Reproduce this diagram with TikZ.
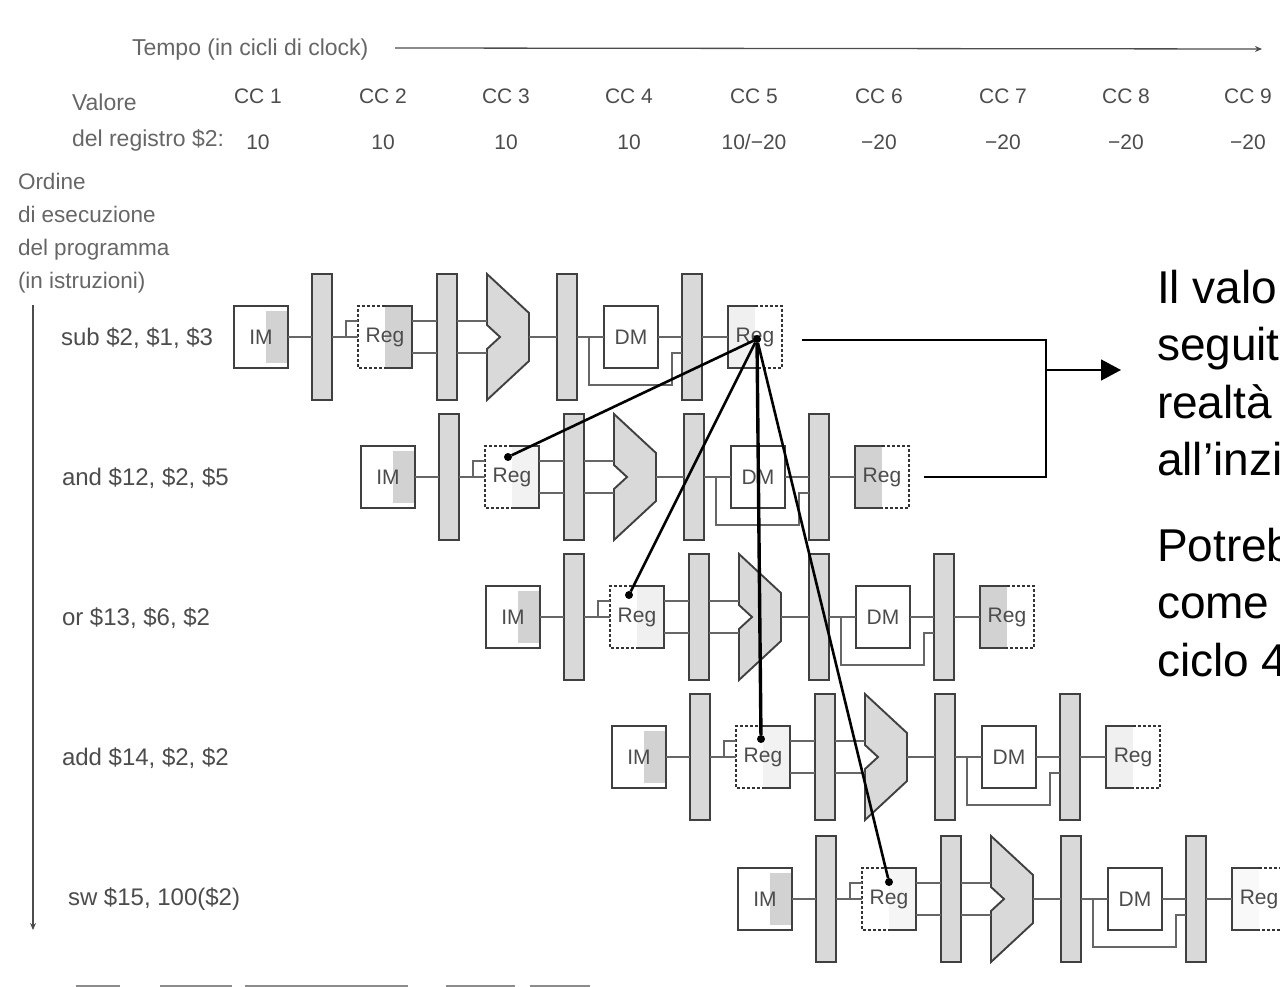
\documentclass[tikz,border=0pt]{standalone}
\usepackage{fontspec}
\setmainfont{Liberation Sans}
\usetikzlibrary{arrows.meta, positioning, calc}

\begin{document}
\begin{tikzpicture}[
  x=1pt, y=-1pt, >={Stealth[length=7pt, width=6pt]},
  inner sep=0pt, outer sep=0pt,
  label/.style={text=black!70, anchor=base west, font=\fontsize{23}{27}\selectfont},
  cell/.style={text=black!70, anchor=base, font=\fontsize{21}{25}\selectfont},
  unit/.style={minimum width=54pt, minimum height=62pt, text=black!70,
               font=\fontsize{21}{25}\selectfont},
  boxline/.style={draw=black!75, line width=1.9pt},
  dashline/.style={draw=black!80, line width=1.9pt, dash pattern=on 3pt off 2pt},
  wire/.style={draw=black!60, line width=1.8pt},
  latch/.style={draw=black!75, line width=2.6pt, fill=gray!30,
                minimum width=20pt, minimum height=126pt},
  alubox/.style={minimum width=42pt, minimum height=126pt},
  aluline/.style={draw=black!75, line width=1.9pt, fill=gray!30},
  halfleft/.style={path picture={\fill[gray!#1] (path picture bounding box.north west)
                   rectangle (path picture bounding box.south);}},
  halfright/.style={path picture={\fill[gray!#1] (path picture bounding box.north)
                    rectangle (path picture bounding box.south east);}},
  imshade/.style={path picture={\fill[gray!35] ([xshift=-22pt,yshift=-5pt]path picture bounding box.north east)
                  rectangle ([yshift=5pt]path picture bounding box.south east);}},
  depdot/.style={circle, fill=black, minimum size=8pt},
  dep/.style={line width=2.6pt, black},
  note/.style={anchor=north west, align=left, font=\fontsize{46}{57.5}\selectfont}]
  \clip (0,0) rectangle (1280,987);

  \node[label, text=black!60] (tempo) at (132,56) {Tempo (in cicli di clock)};
  \coordinate (timestart) at (395,48);
  \coordinate (timeend) at (1262,49);
  \draw[->, draw=black!70, line width=1.3pt] (timestart) -- (timeend);

  \node[label, text=black!60] (valore) at (72,111) {Valore};
  \node[label, text=black!60] (registro) at (72,147) {del registro \$2:};
  \foreach \i/\cx/\val in {1/258/10, 2/383/10, 3/506/10, 4/629/10, 5/754/{10/−20},
                           6/879/−20, 7/1003/−20, 8/1126/−20, 9/1248/−20} {
    \node[cell] (cc\i) at (\cx,104) {CC \i};
    \node[cell] (val\i) at (\cx,150) {\val};
  }

  \node[anchor=north west, align=left, text=black!60, font=\fontsize{22.5}{33}\selectfont]
    (ordine) at (18,173) {Ordine\\di esecuzione\\del programma\\(in istruzioni)};
  \coordinate (ordstart) at (33,305);
  \coordinate (ordend) at (33,930);
  \draw[->, draw=black!70, line width=1.3pt] (ordstart) -- (ordend);

  \node[label, font=\fontsize{24}{28}\selectfont] (ins1) at (61,345) {sub \$2, \$1, \$3};
  \node[label, font=\fontsize{24}{28}\selectfont] (ins2) at (62,485) {and \$12, \$2, \$5};
  \node[label, font=\fontsize{24}{28}\selectfont] (ins3) at (62,625) {or \$13, \$6, \$2};
  \node[label, font=\fontsize{24}{28}\selectfont] (ins4) at (62,765) {add \$14, \$2, \$2};
  \node[label, font=\fontsize{24}{28}\selectfont] (ins5) at (68,905) {sw \$15, 100(\$2)};

  \foreach \r/\px/\py/\rs/\ws in {1/234/337/35/12, 2/361/477/10/35, 3/486/617/12/35,
                                  4/612/757/10/12, 5/738/899/8/5} {
    \node[unit, boxline, imshade] (im\r) at (\px+27,\py) {IM};
    \node[latch, right=24pt of im\r] (la\r) {};
    \node[unit, halfright=\rs, right=26pt of la\r] (rd\r) {Reg};
    \node[latch, right=25pt of rd\r] (lb\r) {};
    \node[alubox, right=30pt of lb\r] (alu\r) {};
    \node[latch, right=28pt of alu\r] (lc\r) {};
    \node[unit, boxline, right=27pt of lc\r] (dm\r) {DM};
    \node[latch, right=24pt of dm\r] (ld\r) {};
    \node[unit, halfleft=\ws, right=26pt of ld\r] (wb\r) {Reg};

    \draw[boxline] (rd\r.north) -- (rd\r.north east) -- (rd\r.south east) -- (rd\r.south);
    \draw[dashline] (rd\r.north) -- (rd\r.north west) -- (rd\r.south west) -- (rd\r.south);
    \draw[boxline] (wb\r.north) -- (wb\r.north west) -- (wb\r.south west) -- (wb\r.south);
    \draw[dashline] (wb\r.north) -- (wb\r.north east) -- (wb\r.south east) -- (wb\r.south);
    \draw[aluline] (alu\r.north west) -- ([yshift=-39pt]alu\r.north east)
      -- ([yshift=39pt]alu\r.south east) -- (alu\r.south west)
      -- ([yshift=-12pt]alu\r.west) -- ([xshift=13pt]alu\r.west)
      -- ([yshift=12pt]alu\r.west) -- cycle;

    \draw[wire] (im\r) -- (la\r);
    \draw[wire] (la\r) -- (rd\r);
    \draw[wire] ([xshift=14pt]la\r.east) |- ([yshift=16pt]rd\r.west);
    \draw[wire] ([yshift=16pt]rd\r.east) -- ([yshift=16pt]lb\r.west);
    \draw[wire] ([yshift=-16pt]rd\r.east) -- ([yshift=-16pt]lb\r.west);
    \draw[wire] ([yshift=16pt]lb\r.east) -- ([yshift=16pt]alu\r.west);
    \draw[wire] ([yshift=-16pt]lb\r.east) -- ([yshift=-16pt]alu\r.west);
    \draw[wire] (alu\r) -- (lc\r);
    \draw[wire] (lc\r) -- (dm\r);
    \draw[wire] (dm\r) -- (ld\r);
    \draw[wire] (ld\r) -- (wb\r);
    \draw[wire] ([xshift=12pt]lc\r.east) |- ([yshift=-17pt]dm\r.south)
      -| ([xshift=-10pt,yshift=-16pt]ld\r.west) -- ([yshift=-16pt]ld\r.west);
  }

  \node[depdot] (depsrc) at (757,339) {};
  \node[depdot] (dep2) at (508,457) {};
  \node[depdot] (dep3) at (629,595) {};
  \node[depdot] (dep4) at (761,739) {};
  \node[depdot] (dep5) at (889,882) {};
  \draw[dep] (depsrc) -- (dep2);
  \draw[dep] (depsrc) -- (dep3);
  \draw[dep, line width=3.4pt] (depsrc) -- (dep4);
  \draw[dep] (depsrc) -- (dep5);

  \coordinate (joint) at (1046,370);
  \coordinate (jointend) at (1121,370);
  \draw[black, line width=1.5pt] ([xshift=20pt,yshift=-3pt]wb1.east) -| (joint);
  \draw[black, line width=1.5pt] ([xshift=15pt]wb2.east) -| (joint);
  \draw[-{Triangle[length=20pt, width=21pt]}, black, line width=1.5pt] (joint) -- (jointend);

  \node[note] (notea) at (1157,270) {Il valo\\seguit\\realtà\\all’inzi};
  \node[note] (noteb) at (1157,528) {Potreb\\come\\ciclo 4};

  \foreach \a/\b in {76/120, 160/232, 245/408, 446/515, 530/590} {
    \coordinate (edgea\a) at (\a,985.5);
    \coordinate (edgeb\a) at (\b,985.5);
    \draw[draw=black!45, line width=2pt] (edgea\a) -- (edgeb\a);
  }
\end{tikzpicture}
\end{document}
